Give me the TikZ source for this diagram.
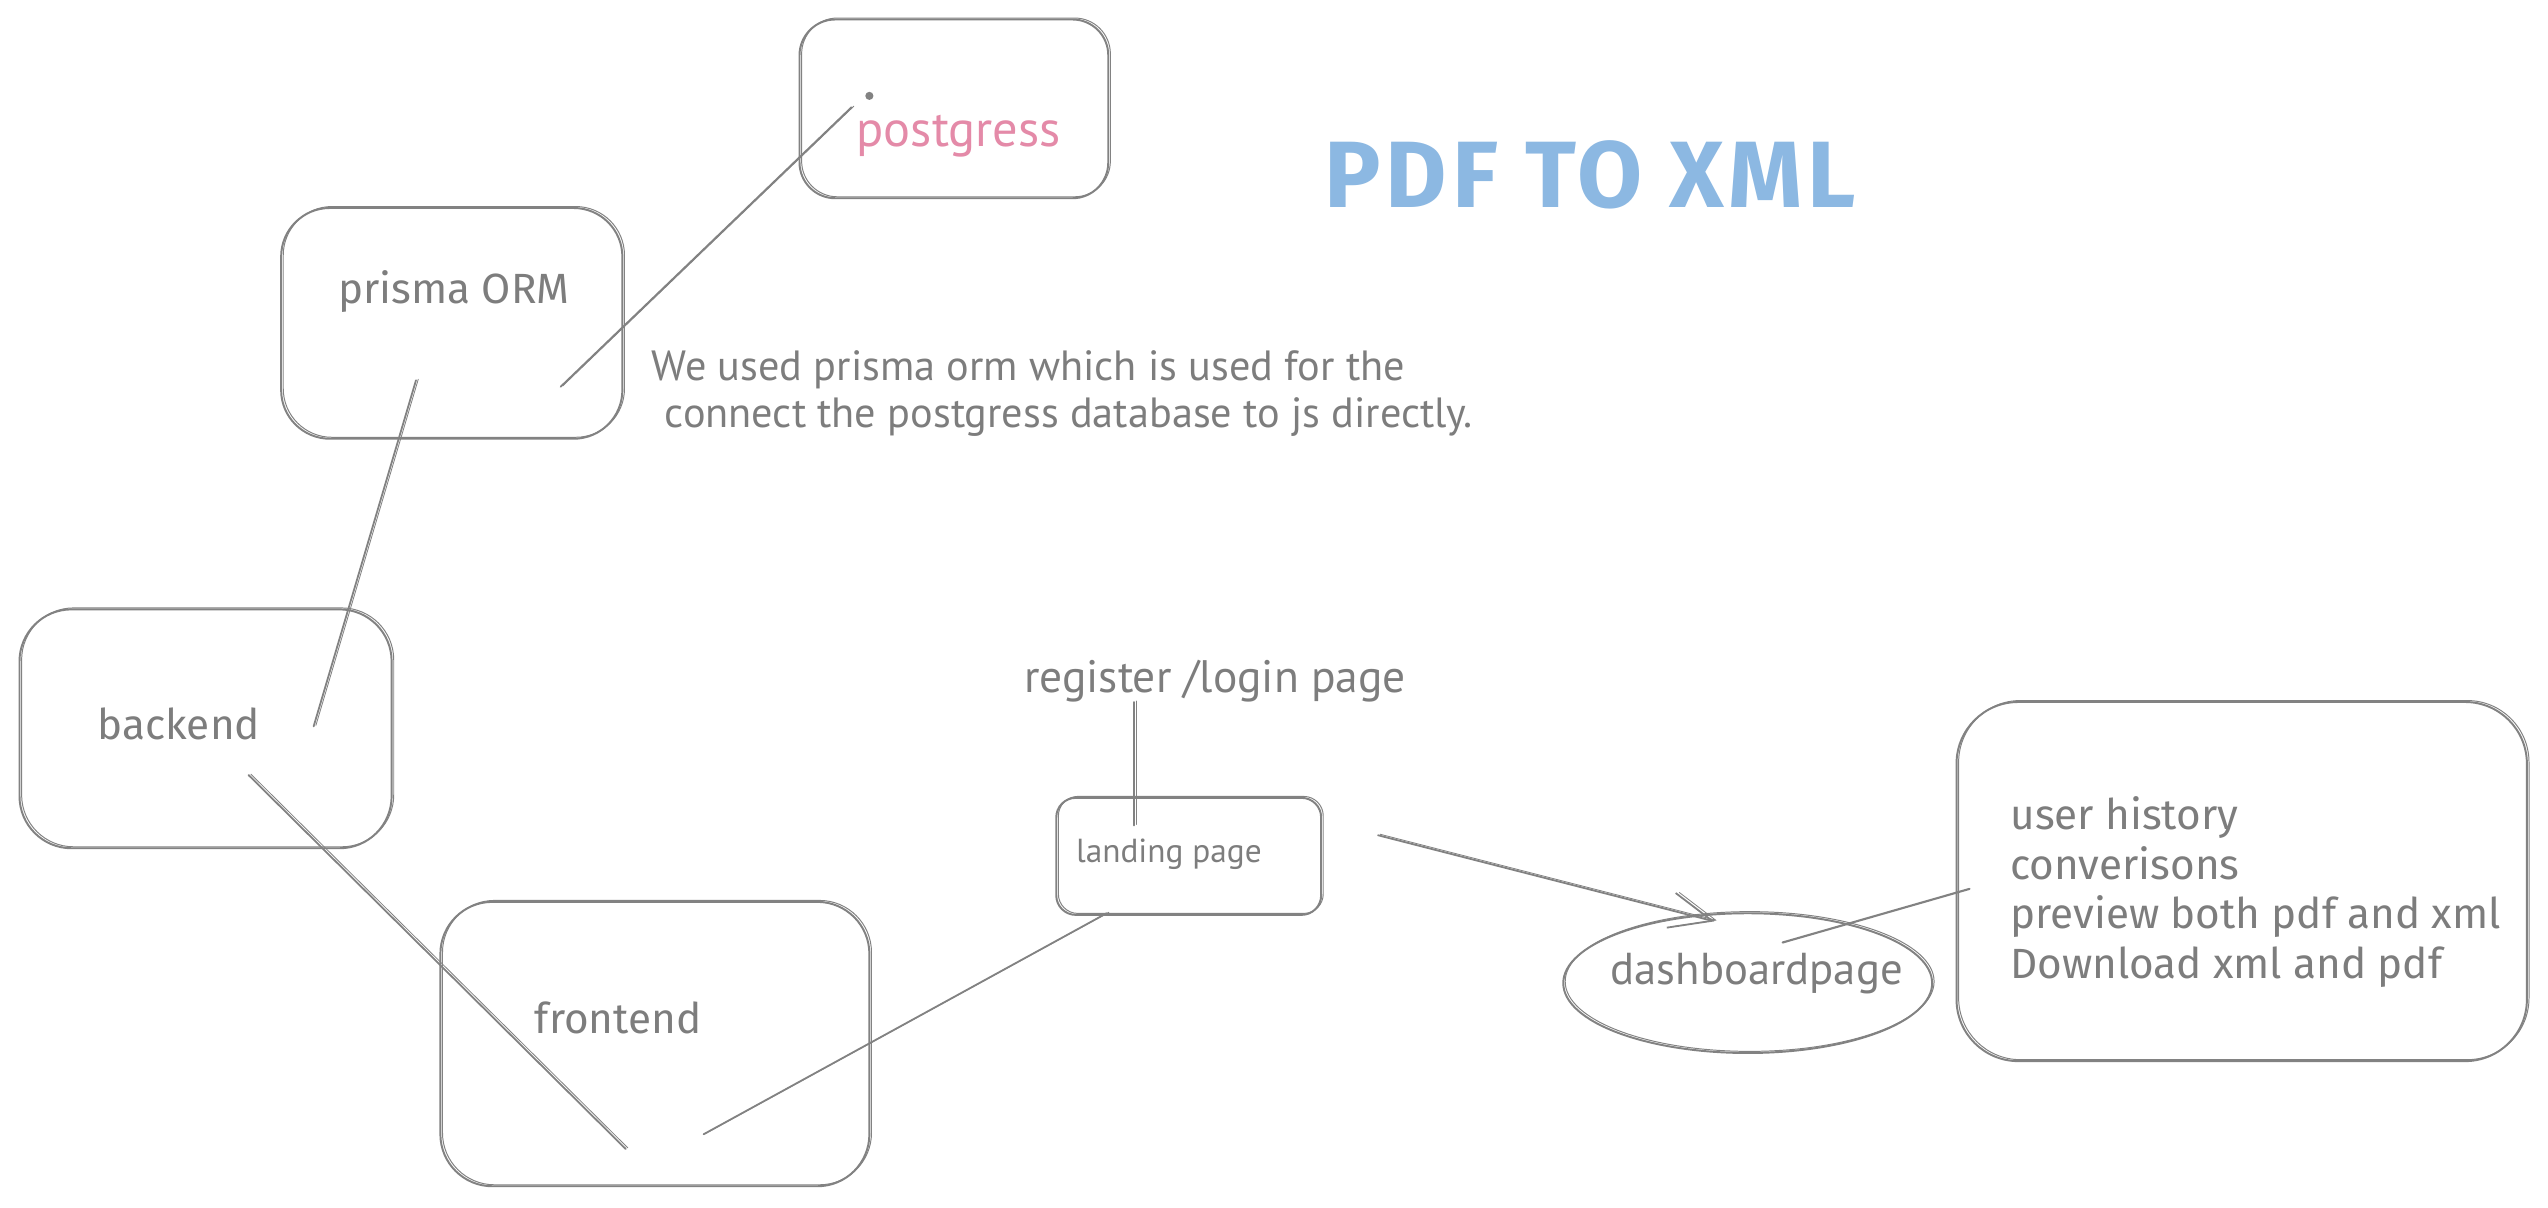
\documentclass[tikz,border=0pt]{standalone}
\usepackage{fontspec}
\setmainfont{Fira Sans}
\newfontfamily\narrowfont{PT Sans}
\usetikzlibrary{shapes.geometric,arrows.meta}
\definecolor{sk}{RGB}{130,130,130}
\definecolor{txt}{RGB}{125,125,125}
\definecolor{pinky}{RGB}{228,138,168}
\definecolor{bluey}{RGB}{140,184,226}
\tikzset{
  boxsk/.style={draw=sk, line width=1.2pt, rounded corners=#1, inner sep=0pt, fill=none,
    postaction={draw=sk, line width=0.6pt, transform canvas={shift={(1.3pt,0.9pt)}}}},
  boxsk/.default=25pt,
  ellsk/.style={ellipse, draw=sk, line width=1.2pt, inner sep=0pt,
    postaction={draw=sk, line width=0.6pt, transform canvas={shift={(1.2pt,1.0pt)}}}},
  linesk/.style={draw=sk, line width=1.1pt, line cap=round,
    postaction={draw=sk, line width=0.5pt, transform canvas={shift={(1.4pt,0.6pt)}}}},
  lbl/.style={text=txt, inner sep=0pt, anchor=base west, font=\fontsize{26}{30.5}\selectfont},
  nlbl/.style={text=txt, inner sep=0pt, anchor=base west, font=\narrowfont\fontsize{#1}{29}\selectfont},
}
\begin{document}
\begin{tikzpicture}[x=1pt,y=-1pt]
\useasboundingbox[fill=white] (0,0) rectangle (1568,743);

% boxes
\node[boxsk=22pt, minimum width=190pt, minimum height=110pt] (pgbox) at (587,67) {};
\node[boxsk=30pt, minimum width=210pt, minimum height=142pt] (prbox) at (278,199) {};
\node[boxsk=32pt, minimum width=229pt, minimum height=147pt] (bebox) at (126.5,448.5) {};
\node[boxsk=32pt, minimum width=264pt, minimum height=175pt] (febox) at (403,642.5) {};
\node[boxsk=12pt, minimum width=163pt, minimum height=72pt] (lpbox) at (731.5,527) {};
\node[ellsk, minimum width=227pt, minimum height=86pt] (dbell) at (1075.5,605) {};
\node[boxsk=38pt, minimum width=351pt, minimum height=221pt] (ubox) at (1379.5,542.5) {};

% texts
\node[text=pinky, inner sep=0pt, anchor=base west, font=\narrowfont\fontsize{31}{31}\selectfont] (pgtext) at (527,90) {postgress};
\node[fill=sk, circle, inner sep=0pt, minimum size=5pt] (pgdot) at (535,59) {};
\node[text=bluey, inner sep=0pt, anchor=base west, font=\bfseries\fontsize{58}{58}\selectfont\addfontfeature{LetterSpace=5}] (title) at (815,128) {PDF TO XML};
\node[lbl] (prtext) at (208,187) {prisma ORM};
\node[nlbl=26, align=left] (desc1) at (401,234) {We used prisma orm which is used for the};
\node[nlbl=26, align=left] (desc2) at (409,263) {connect the postgress database to js directly.};
\node[lbl] (betext) at (60,455) {backend};
\node[lbl] (fetext) at (329,636) {frontend};
\node[nlbl=28] (regtext) at (630,426) {register /login page};
\node[nlbl=20.5] (lptext) at (662,530.5) {landing page};
\node[nlbl=27.5] (dbtext) at (991,606) {dashboardpage};
\node[lbl, align=left, anchor=north west] (utext) at (1237,490) {user history\\converisons\\preview both pdf and xml\\Download xml and pdf};

% connector ends
\coordinate (prA) at (345,238);
\coordinate (pgA) at (524,66);
\coordinate (prB) at (256,234);
\coordinate (beA) at (193,447);
\coordinate (beB) at (153,477);
\coordinate (feA) at (385,707);
\coordinate (feB) at (433,698);
\coordinate (lpA) at (681,562);
\coordinate (regA) at (698,432);
\coordinate (lpB) at (698,508);
\coordinate (lpC) at (848,514);
\coordinate (dbA) at (1055,567);
\coordinate (dbB) at (1097,580);
\coordinate (ubA) at (1212,547);

% connectors
\draw[linesk] (prA) -- (pgA);
\draw[linesk] (prB) -- (beA);
\draw[linesk] (beB) -- (feA);
\draw[linesk] (feB) -- (lpA);
\draw[linesk] (regA) -- (lpB);
\draw[linesk, -{Straight Barb[length=26pt,width=22pt]}] (lpC) -- (dbA);
\draw[draw=sk, line width=1.3pt, line cap=round] (dbB) -- (ubA);
\end{tikzpicture}
\end{document}
